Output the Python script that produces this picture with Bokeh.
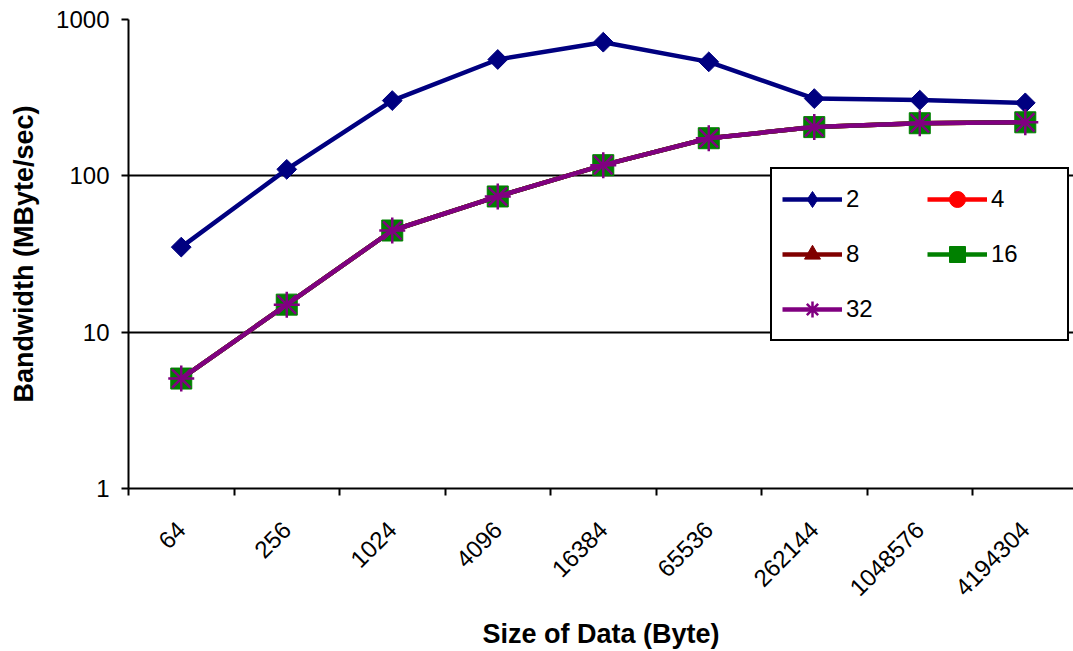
import numpy as np
from bokeh.plotting import figure
from bokeh.models import (Range1d, FixedTicker, PrintfTickFormatter, Legend, LegendItem,
                          Grid, ColumnDataSource)
from bokeh.embed import file_html
from bokeh.resources import INLINE

categories = ["64", "256", "1024", "4096", "16384", "65536", "262144", "1048576", "4194304"]
series_names = ["2", "4", "8", "16", "32"]
bw_2 = [35, 110, 303, 555, 716, 536, 312, 305, 293]
bw_4 = [5.05, 15.0, 44.7, 73.8, 117, 174, 205, 217, 220]
bw_8 = [5.05, 15.0, 44.7, 73.8, 117, 174, 205, 217, 220]
bw_16 = [5.05, 15.0, 44.7, 73.8, 117, 174, 205, 217, 220]
bw_32 = [5.05, 15.0, 44.7, 73.8, 117, 174, 205, 217, 220]

FONT = "Liberation Sans"
n = len(categories)
xc = [i + 0.5 for i in range(n)]

p = figure(width=1073, height=651, output_backend="svg", toolbar_location=None,
           x_range=Range1d(0, 8.957), y_range=Range1d(1, 1000), y_axis_type="log",
           min_border_left=128, min_border_right=0, min_border_top=19, min_border_bottom=162)
p.outline_line_color = None
p.background_fill_color = "white"
p.border_fill_color = "white"

# axes
p.xaxis.ticker = FixedTicker(ticks=xc, minor_ticks=list(range(n + 1)))
p.xaxis.major_label_overrides = {x: c for x, c in zip(xc, categories)}
p.xaxis.major_label_orientation = np.pi / 4
p.xaxis.major_tick_out = 0
p.xaxis.major_tick_in = 0
p.xaxis.minor_tick_out = 7
p.xaxis.minor_tick_in = 0
p.xaxis.minor_tick_line_color = "black"
p.xaxis.minor_tick_line_width = 2
p.xaxis.major_label_standoff = 30
p.xaxis.axis_label = "Size of Data (Byte)"
p.xaxis.axis_label_standoff = 12

p.yaxis.ticker = FixedTicker(ticks=[1, 10, 100, 1000], minor_ticks=[])
p.yaxis.formatter = PrintfTickFormatter(format="%d")
p.yaxis.major_tick_out = 7
p.yaxis.major_tick_in = 0
p.yaxis.major_tick_line_width = 2
p.yaxis.major_label_standoff = 12
p.yaxis.axis_label = "Bandwidth (MByte/sec)"
p.yaxis.axis_label_standoff = 14

for ax in (p.xaxis[0], p.yaxis[0]):
    ax.axis_line_color = "black"
    ax.axis_line_width = 2
    ax.major_tick_line_color = "black"
    ax.major_label_text_font = FONT
    ax.major_label_text_font_size = "24px"
    ax.major_label_text_color = "black"
    ax.axis_label_text_font = FONT
    ax.axis_label_text_font_size = "27px"
    ax.axis_label_text_font_style = "bold"
    ax.axis_label_text_color = "black"

p.xgrid.grid_line_color = None
p.ygrid.ticker = FixedTicker(ticks=[10, 100], minor_ticks=[])
p.ygrid.grid_line_color = "black"
p.ygrid.grid_line_width = 2
top_grid = Grid(dimension=1, ticker=FixedTicker(ticks=[1000], minor_ticks=[]),
                grid_line_color="#808080", grid_line_width=3)
p.add_layout(top_grid)

styles = [
    (bw_2, "#000080", dict(marker="square", angle=np.pi / 4, size=14), "diamond"),
    (bw_4, "#FF0000", dict(marker="circle", size=18), None),
    (bw_8, "#800000", dict(marker="triangle", size=19), None),
    (bw_16, "#008000", dict(marker="square", size=21), None),
    (bw_32, "#800080", dict(marker="asterisk", size=26), None),
]

items = []
for name, (vals, color, mk, legend_marker) in zip(series_names, styles):
    src = ColumnDataSource(dict(x=xc, y=vals))
    r1 = p.line("x", "y", source=src, line_color=color, line_width=4.5)
    if mk["marker"] == "asterisk":
        r2 = p.scatter("x", "y", source=src, marker="asterisk", size=mk["size"],
                       line_color=color, line_width=2.5)
    else:
        r2 = p.scatter("x", "y", source=src, marker=mk["marker"], size=mk["size"],
                       angle=mk.get("angle", 0), fill_color=color, line_color=color)
    rends = [r1, r2]
    if legend_marker is not None:
        # legend-only marker (drawn at zero size in the plot)
        r3 = p.scatter("x", "y", source=src, marker=legend_marker, size=0,
                       fill_color=color, line_color=color)
        rends = [r1, r3]
    items.append(LegendItem(label=name, renderers=rends))

legend = Legend(items=[items[0], items[2], items[4], items[1], items[3]],
                location=(642, 147), ncols=2, orientation="vertical")
legend.border_line_color = "black"
legend.border_line_alpha = 1
legend.border_line_width = 2
legend.background_fill_color = "white"
legend.background_fill_alpha = 1
legend.label_text_font = FONT
legend.label_text_font_size = "24px"
legend.label_text_color = "black"
legend.glyph_width = 60
legend.glyph_height = 40
legend.label_height = 24
legend.label_width = 66
legend.label_standoff = 4
legend.spacing = 15
legend.padding = 10
legend.margin = 0
p.add_layout(legend, "center")

open("out.html", "w").write(file_html(p, INLINE))
